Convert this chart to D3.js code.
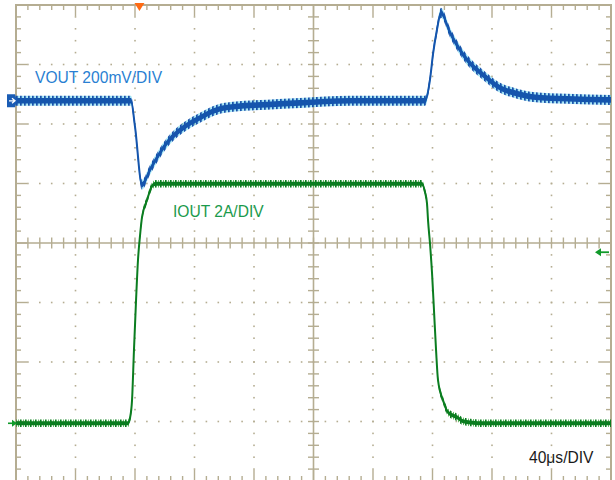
<!DOCTYPE html>
<html><head><meta charset="utf-8">
<script src="https://cdn.jsdelivr.net/npm/d3@7"></script>
<style>html,body{margin:0;padding:0;background:#fff;overflow:hidden}svg{display:block}</style>
</head><body><svg id="c" width="615" height="480"></svg>
<script>
// ---- data ----
const voutTime = [0, 77.3, 80, 84.7, 90.1, 101.5, 112.3, 123.7, 135.1, 145.9, 168.7, 190.9, 224.5, 275, 278.3, 280.3, 283, 285.7, 291.8, 303.2, 314, 325.4, 336.8, 347.6, 370.4, 400];
const voutMv   = [0, 0, -87, -282, -232, -141, -91, -57, -30, -20, -13, -7, 0, 0, 71, 155, 239, 296, 229, 138, 87, 44, 24, 13, 7, 3];
const ioutTime = [0, 75.3, 76.6, 78, 79.3, 80.7, 82, 83.4, 84.7, 88.1, 91.4, 94.1, 272.9, 275, 276.3, 277, 278.3, 279.7, 281, 282.4, 283.7, 287.1, 290.4, 296.5, 300.5, 314, 400];
const ioutA    = [0, 0, 0.17, 0.77, 2.45, 4.13, 5.48, 6.32, 6.92, 7.5, 7.97, 8.05, 8.05, 7.76, 7.39, 6.82, 6.05, 5.04, 3.8, 2.45, 1.45, 0.77, 0.37, 0.2, 0.07, 0, 0];
const timePerDiv = 40;   // µs per division
const voutPerDiv = 200;  // mV per division
const ioutPerDiv = 2;    // A per division
const voutOffsetDiv = 2.39;  // channel position (divisions above centre)
const ioutOffsetDiv = -3.03;
const triggerTimeUs = 83;
const triggerLevelA = 5.75;
const labels = ["VOUT 200mV/DIV", "IOUT 2A/DIV", "40\u03bcs/DIV"];

// ---- layout ----
const pLeft = 16, pRight = 611, pTop = 5;
const divPx = (pRight - pLeft) / 10;
const pBottom = pTop + 8 * divPx;
const minor = divPx / 5;
const gridCol = "#b5ad92";

const svg = d3.select("#c");
const xT = d3.scaleLinear().domain([0, 10 * timePerDiv]).range([pLeft, pRight]);
const yDiv = d3.scaleLinear().domain([4, -4]).range([pTop, pBottom]);
const yV = d3.scaleLinear().domain([(-4 - voutOffsetDiv) * voutPerDiv, (4 - voutOffsetDiv) * voutPerDiv]).range([pBottom, pTop]);
const yI = d3.scaleLinear().domain([(-4 - ioutOffsetDiv) * ioutPerDiv, (4 - ioutOffsetDiv) * ioutPerDiv]).range([pBottom, pTop]);
const xDiv = d3.scaleLinear().domain([0, 10]).range([pLeft, pRight]);

// patterns
const defs = svg.append("defs");
const pb = defs.append("pattern").attr("id", "hb").attr("patternUnits", "userSpaceOnUse").attr("width", 4).attr("height", 20);
pb.append("rect").attr("x", 0).attr("y", 0).attr("width", 1.8).attr("height", 20).attr("fill", "#1555ad");
pb.append("rect").attr("x", 2.5).attr("y", 0).attr("width", 0.9).attr("height", 20).attr("fill", "#3cc3e8");
const pg = defs.append("pattern").attr("id", "hg").attr("patternUnits", "userSpaceOnUse").attr("width", 5).attr("height", 20);
pg.append("rect").attr("x", 0).attr("y", 0).attr("width", 1.6).attr("height", 20).attr("fill", "#0b7d20");
pg.append("rect").attr("x", 3).attr("y", 0).attr("width", 0.8).attr("height", 20).attr("fill", "#3fae3f");

// ---- grid ----
const grid = svg.append("g");
const dots = [];
d3.range(1, 10).forEach(i => { if (i === 5) return; d3.range(1, 40).forEach(k => dots.push([xDiv(i), pTop + k * minor])); });
d3.range(1, 8).forEach(j => { if (j === 4) return; d3.range(1, 50).forEach(k => dots.push([pLeft + k * minor, yDiv(4 - j)])); });
grid.selectAll("rect.dot").data(dots).join("rect").attr("class", "dot")
  .attr("x", d => d[0] - 0.8).attr("y", d => d[1] - 0.8).attr("width", 1.6).attr("height", 1.6).attr("fill", gridCol);
const cx = xDiv(5), cy = yDiv(0);
grid.append("line").attr("x1", cx).attr("x2", cx).attr("y1", pTop).attr("y2", pBottom).attr("stroke", gridCol).attr("stroke-width", 1.6);
grid.append("line").attr("x1", pLeft).attr("x2", pRight).attr("y1", cy).attr("y2", cy).attr("stroke", gridCol).attr("stroke-width", 1.6);
d3.range(1, 40).forEach(k => { const y = pTop + k * minor; grid.append("line").attr("x1", cx - 5.5).attr("x2", cx + 5.5).attr("y1", y).attr("y2", y).attr("stroke", gridCol).attr("stroke-width", 1.4); });
d3.range(1, 50).forEach(k => { const x = pLeft + k * minor; grid.append("line").attr("x1", x).attr("x2", x).attr("y1", cy - 5.5).attr("y2", cy + 5.5).attr("stroke", gridCol).attr("stroke-width", 1.4); });
d3.range(1, 50).forEach(k => {
  const x = pLeft + k * minor, len = k % 5 === 0 ? 11 : 5;
  grid.append("line").attr("x1", x).attr("x2", x).attr("y1", pTop).attr("y2", pTop + len).attr("stroke", gridCol).attr("stroke-width", 1.4);
  grid.append("line").attr("x1", x).attr("x2", x).attr("y1", pBottom).attr("y2", pBottom - len).attr("stroke", gridCol).attr("stroke-width", 1.4);
});
d3.range(1, 40).forEach(k => {
  const y = pTop + k * minor, len = k % 5 === 0 ? 11 : 5;
  grid.append("line").attr("x1", pLeft).attr("x2", pLeft + len).attr("y1", y).attr("y2", y).attr("stroke", gridCol).attr("stroke-width", 1.4);
  grid.append("line").attr("x1", pRight).attr("x2", pRight - len).attr("y1", y).attr("y2", y).attr("stroke", gridCol).attr("stroke-width", 1.4);
});
grid.append("rect").attr("x", pLeft).attr("y", pTop).attr("width", pRight - pLeft).attr("height", pBottom - pTop)
  .attr("fill", "none").attr("stroke", gridCol).attr("stroke-width", 2);

// ---- traces ----
function trace(times, vals, yS, o) {
  const pts = times.map((t, i) => [xT(t), yS(vals[i])]);
  const area = h => d3.area().x(d => d[0]).y0(d => d[1] - h).y1(d => d[1] + h).curve(d3.curveMonotoneX);
  svg.append("path").attr("d", area(o.band)(pts)).attr("fill", "url(#" + o.pattern + ")");
  svg.append("path").attr("d", area(o.core)(pts)).attr("fill", o.color);
  svg.append("path").attr("d", d3.line().curve(d3.curveMonotoneX)(pts)).attr("fill", "none")
    .attr("stroke", o.color).attr("stroke-width", 2);
}
trace(ioutTime, ioutA, yI, { band: 3.8, core: 2, pattern: "hg", color: "#0b7d20" });
trace(voutTime, voutMv, yV, { band: 5, core: 2.8, pattern: "hb", color: "#1555ad" });

// ---- markers ----
const yv0 = yV(0), yi0 = yI(0);
svg.append("path").attr("d", `M7,${yv0 - 6.5} L15,${yv0 - 6.5} L17,${yv0} L15,${yv0 + 6.5} L7,${yv0 + 6.5} Z`).attr("fill", "#1a5cb4");
svg.append("path").attr("d", `M9,${yv0} L15,${yv0} M12,${yv0 - 2.5} L15,${yv0} L12,${yv0 + 2.5}`).attr("fill", "none").attr("stroke", "#fff").attr("stroke-width", 1.3);
svg.append("path").attr("d", `M8,${yi0} L16,${yi0}`).attr("stroke", "#119a2a").attr("stroke-width", 1.6);
svg.append("path").attr("d", `M17,${yi0} L12,${yi0 - 3.5} L12,${yi0 + 3.5} Z`).attr("fill", "#119a2a");
const xTrig = xT(triggerTimeUs);
svg.append("path").attr("d", `M${xTrig - 5},3 L${xTrig + 5},3 L${xTrig},11 Z`).attr("fill", "#ff6a13");
const yTrig = yI(triggerLevelA);
svg.append("path").attr("d", `M597,${yTrig} L609,${yTrig}`).attr("stroke", "#119a2a").attr("stroke-width", 1.8);
svg.append("path").attr("d", `M595,${yTrig} L601,${yTrig - 4} L601,${yTrig + 4} Z`).attr("fill", "#119a2a");

// ---- labels ----
const font = "'Liberation Sans', Arial, sans-serif";
svg.append("text").attr("x", 35).attr("y", 83).attr("font-family", font).attr("font-size", 15.6).attr("fill", "#2a7fd2").text(labels[0]);
svg.append("text").attr("x", 173).attr("y", 217).attr("font-family", font).attr("font-size", 15.6).attr("fill", "#1b9a4c").text(labels[1]);
svg.append("text").attr("x", 529).attr("y", 463).attr("font-family", font).attr("font-size", 15.6).attr("fill", "#1a1a1a").text(labels[2]);
</script></body></html>
